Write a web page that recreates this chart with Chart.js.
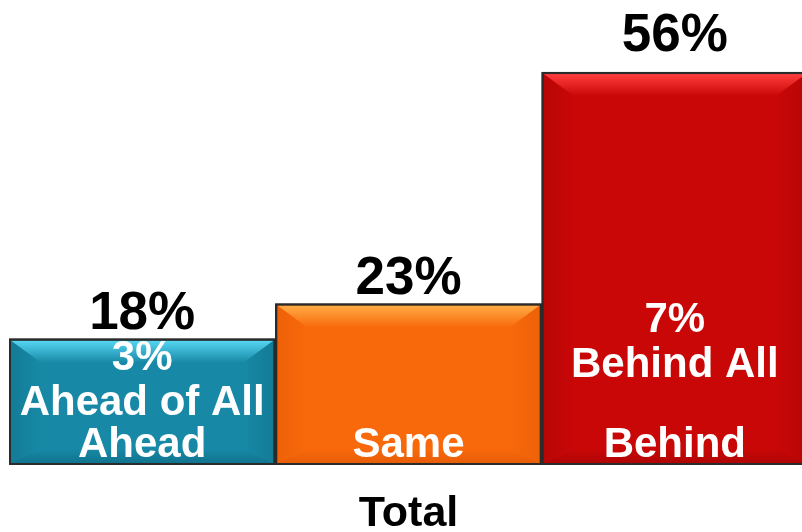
<!DOCTYPE html>
<html>
<head>
<meta charset="utf-8">
<script src="https://cdn.jsdelivr.net/npm/chart.js@4/dist/chart.umd.min.js"></script>
<style>
  html, body { margin: 0; padding: 0; background: #fff; overflow: hidden; }
  #wrap { position: absolute; left: 0; top: 0; width: 812px; height: 532px; }
</style>
</head>
<body>
<div id="wrap"><canvas id="c"></canvas></div>
<script>
// ---- data ----
const categories = ["Ahead", "Same", "Behind"];
const values = [18, 23, 56];
const valueLabels = ["18%", "23%", "56%"];
const subLabels = [["3%", "Ahead of All"], [], ["7%", "Behind All"]];
const axisTitle = "Total";

// ---- styles ----
const FONT = "'Liberation Sans', Arial, sans-serif";
const mainColors = ["#1789a6", "#f8690b", "#c90707"];
const lightColors = ["#55d6f2", "#ffab45", "#ff3d3d"];
const darkColors = ["#0f6e88", "#e35a05", "#a80404"];
const valueGap = [10, 10, 21];
const subLabelTop = [20, 250, 248]; // px below bar top for first sub-label line center

const bevelPlugin = {
  id: 'bevel',
  afterDatasetsDraw(chart) {
    const ctx = chart.ctx;
    const meta = chart.getDatasetMeta(0);
    meta.data.forEach((bar, i) => {
      const p = bar.getProps(['x', 'y', 'base', 'width'], true);
      const bw = 2;
      const L = p.x - p.width / 2 + bw, R = p.x + p.width / 2 - bw;
      const T = p.y + bw, B = p.base - bw;
      const bt = 22, bs = 30, bb = 14;
      ctx.save();
      // top
      let g = ctx.createLinearGradient(0, T, 0, T + bt);
      g.addColorStop(0, lightColors[i]);
      g.addColorStop(1, mainColors[i]);
      ctx.fillStyle = g;
      ctx.beginPath();
      ctx.moveTo(L, T); ctx.lineTo(R, T); ctx.lineTo(R - bs, T + bt); ctx.lineTo(L + bs, T + bt); ctx.closePath();
      ctx.fill();
      // left
      g = ctx.createLinearGradient(L, 0, L + bs, 0);
      g.addColorStop(0, darkColors[i]);
      g.addColorStop(1, mainColors[i]);
      ctx.fillStyle = g;
      ctx.globalAlpha = 0.5;
      ctx.beginPath();
      ctx.moveTo(L, T); ctx.lineTo(L + bs, T + bt); ctx.lineTo(L + bs, B - bb); ctx.lineTo(L, B); ctx.closePath();
      ctx.fill();
      // right
      g = ctx.createLinearGradient(R, 0, R - bs, 0);
      g.addColorStop(0, darkColors[i]);
      g.addColorStop(1, mainColors[i]);
      ctx.fillStyle = g;
      ctx.beginPath();
      ctx.moveTo(R, T); ctx.lineTo(R - bs, T + bt); ctx.lineTo(R - bs, B - bb); ctx.lineTo(R, B); ctx.closePath();
      ctx.fill();
      // bottom
      g = ctx.createLinearGradient(0, B, 0, B - bb);
      g.addColorStop(0, darkColors[i]);
      g.addColorStop(1, mainColors[i]);
      ctx.fillStyle = g;
      ctx.globalAlpha = 0.8;
      ctx.beginPath();
      ctx.moveTo(L, B); ctx.lineTo(R, B); ctx.lineTo(R - bs, B - bb); ctx.lineTo(L + bs, B - bb); ctx.closePath();
      ctx.fill();
      ctx.globalAlpha = 1;
      // border redraw
      ctx.strokeStyle = "#2b2b2b";
      ctx.lineWidth = 2;
      ctx.strokeRect(p.x - p.width / 2 + 1, p.y + 1, p.width - 2, p.base - p.y - 2);

      // value label above
      ctx.fillStyle = "#000";
      ctx.font = "bold 53px " + FONT;
      ctx.textAlign = "center";
      ctx.textBaseline = "alphabetic";
      ctx.fillText(valueLabels[i], p.x, p.y - valueGap[i]);

      // labels inside
      ctx.fillStyle = "#fff";
      ctx.font = "bold 42px " + FONT;
      ctx.textBaseline = "middle";
      subLabels[i].forEach((t, k) => {
        ctx.fillText(t, p.x, p.y + subLabelTop[i] + k * 45);
      });
      ctx.fillText(categories[i], p.x, p.base - 20);
      ctx.restore();
    });
  }
};

new Chart(document.getElementById('c'), {
  type: 'bar',
  data: {
    labels: categories,
    datasets: [{
      data: values,
      backgroundColor: mainColors,
      borderColor: "#2b2b2b",
      borderWidth: 2,
      borderSkipped: false,
      categoryPercentage: 1,
      barPercentage: 1
    }]
  },
  options: {
    responsive: true,
    maintainAspectRatio: false,
    animation: false,
    devicePixelRatio: 1,
    layout: { padding: { left: 9, right: 4, top: 44, bottom: 0 } },
    plugins: { legend: { display: false }, tooltip: { enabled: false } },
    scales: {
      y: { display: false, min: 0, max: 60 },
      x: {
        grid: { display: false },
        border: { display: false },
        ticks: { display: false },
        title: {
          display: true,
          text: axisTitle,
          color: "#000",
          font: { family: FONT, size: 43, weight: 'bold', lineHeight: 0.8 },
          padding: { top: 23.8, bottom: 0.8 }
        }
      }
    }
  },
  plugins: [bevelPlugin]
});
</script>
</body>
</html>
